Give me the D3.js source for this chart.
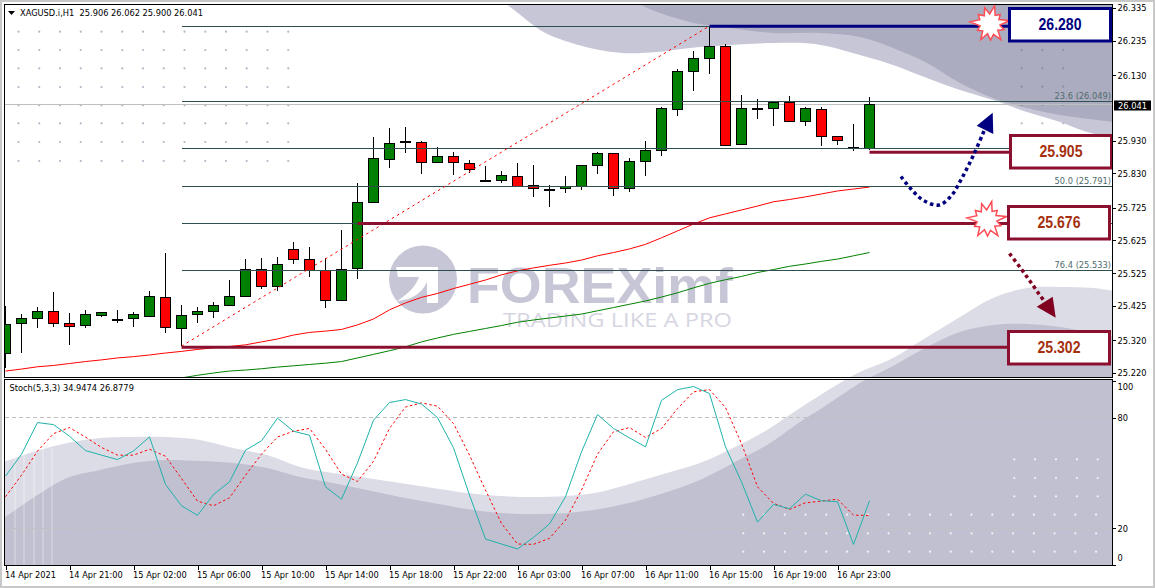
<!DOCTYPE html>
<html lang="en">

<head>
    <meta charset="utf-8">
    <script src="https://d3js.org/d3.v7.min.js"></script>
    <style>
        body { margin: 0; background: #fff; }
        svg { display: block; }
        text { font-family: "DejaVu Sans Condensed", "DejaVu Sans", sans-serif; font-size: 9.2px; fill: #000; }
        .axis path, .axis line { stroke: #000; shape-rendering: crispEdges; }
        .axis text { font-family: "DejaVu Sans Condensed", "DejaVu Sans", sans-serif; font-size: 9.2px; }
    </style>
</head>

<body>
    <script>
        // candles (one entry per hour bar)
        const opens = [25.280, 25.371, 25.387, 25.409, 25.372, 25.366, 25.398, 25.381, 25.387, 25.395, 25.452, 25.357, 25.400, 25.409, 25.427, 25.455, 25.539, 25.485, 25.598, 25.567, 25.534, 25.442, 25.540, 25.742, 25.873, 25.925, 25.925, 25.864, 25.882, 25.861, 25.806, 25.809, 25.821, 25.794, 25.780, 25.784, 25.790, 25.855, 25.891, 25.784, 25.867, 25.900, 26.026, 26.142, 26.181, 26.218, 25.919, 26.027, 26.029, 26.047, 25.989, 26.026, 25.943, 25.907, 25.906];
        const highs = [25.425, 25.400, 25.422, 25.468, 25.404, 25.413, 25.407, 25.413, 25.407, 25.471, 25.587, 25.428, 25.422, 25.437, 25.504, 25.568, 25.572, 25.575, 25.620, 25.605, 25.572, 25.657, 25.800, 25.941, 25.968, 25.971, 25.928, 25.910, 25.895, 25.870, 25.852, 25.837, 25.862, 25.856, 25.794, 25.822, 25.855, 25.894, 25.891, 25.876, 25.929, 26.032, 26.148, 26.204, 26.279, 26.224, 26.069, 26.057, 26.047, 26.066, 26.032, 26.032, 25.943, 25.981, 26.062];
        const lows = [25.236, 25.282, 25.356, 25.359, 25.307, 25.356, 25.392, 25.374, 25.362, 25.392, 25.343, 25.303, 25.374, 25.389, 25.427, 25.455, 25.478, 25.472, 25.553, 25.514, 25.420, 25.442, 25.508, 25.742, 25.847, 25.893, 25.829, 25.860, 25.826, 25.832, 25.806, 25.801, 25.790, 25.759, 25.728, 25.771, 25.780, 25.829, 25.762, 25.774, 25.823, 25.884, 26.006, 26.082, 26.134, 25.916, 25.919, 25.997, 25.976, 25.989, 25.976, 25.914, 25.918, 25.899, 25.900];
        const closes = [25.369, 25.387, 25.409, 25.372, 25.363, 25.400, 25.406, 25.384, 25.400, 25.455, 25.360, 25.397, 25.409, 25.427, 25.455, 25.539, 25.488, 25.552, 25.567, 25.534, 25.442, 25.537, 25.742, 25.876, 25.922, 25.928, 25.864, 25.882, 25.864, 25.842, 25.809, 25.824, 25.790, 25.784, 25.782, 25.790, 25.855, 25.891, 25.784, 25.867, 25.900, 26.029, 26.142, 26.181, 26.218, 25.916, 26.029, 26.030, 26.047, 25.989, 26.029, 25.943, 25.931, 25.910, 26.041];

        // moving averages
        const maRed = [25.226, 25.232, 25.239, 25.243, 25.249, 25.255, 25.260, 25.266, 25.270, 25.275, 25.281, 25.286, 25.292, 25.297, 25.301, 25.306, 25.315, 25.324, 25.336, 25.344, 25.348, 25.353, 25.367, 25.385, 25.413, 25.434, 25.451, 25.463, 25.478, 25.491, 25.504, 25.520, 25.532, 25.541, 25.549, 25.556, 25.565, 25.578, 25.588, 25.599, 25.613, 25.633, 25.654, 25.675, 25.694, 25.706, 25.718, 25.730, 25.743, 25.750, 25.758, 25.767, 25.776, 25.782, 25.788];
        const maGreenStart = 11; // below the pane before this bar
        const maGreen = [25.205, 25.213, 25.220, 25.226, 25.229, 25.233, 25.238, 25.242, 25.246, 25.250, 25.255, 25.266, 25.277, 25.288, 25.300, 25.315, 25.327, 25.338, 25.347, 25.356, 25.365, 25.375, 25.382, 25.388, 25.394, 25.400, 25.410, 25.420, 25.430, 25.440, 25.452, 25.465, 25.480, 25.494, 25.505, 25.515, 25.527, 25.536, 25.546, 25.553, 25.561, 25.568, 25.578, 25.588];

        // stochastic
        const stochMain = [48.3, 60.2, 77.4, 76.3, 70.0, 62.2, 59.7, 57.3, 62.0, 69.6, 43.8, 32.2, 27.0, 38.3, 45.2, 62.4, 67.5, 79.8, 72.7, 70.5, 42.5, 35.8, 55.5, 78.7, 88.3, 89.9, 87.5, 80.1, 63.7, 38.0, 14.1, 11.4, 8.7, 15.0, 22.3, 37.1, 61.5, 81.8, 74.2, 69.1, 64.2, 89.5, 95.3, 97.0, 93.2, 64.2, 45.2, 23.3, 32.9, 30.6, 38.5, 34.9, 34.4, 11.2, 34.9];
        const stochSignal = [37.1, 48.8, 61.9, 71.4, 74.7, 69.5, 63.9, 59.7, 59.7, 62.9, 59.1, 47.0, 34.7, 32.2, 36.5, 48.8, 60.2, 69.6, 72.7, 74.2, 62.9, 49.4, 45.4, 56.4, 74.2, 85.9, 88.1, 86.3, 76.9, 59.7, 40.7, 22.6, 11.4, 11.2, 14.5, 24.4, 40.7, 60.2, 72.4, 74.7, 69.3, 74.2, 85.0, 94.1, 95.3, 85.6, 66.0, 42.5, 33.5, 30.2, 33.8, 34.7, 35.8, 27.1, 26.9];

        // axis labels (the tick under the last price tag is not readable, so it is left out)
        const priceTicks = [26.335, 26.235, 26.130, 25.930, 25.830, 25.725, 25.625, 25.525, 25.425, 25.320, 25.220];
        const stochTicks = [100, 80, 20, 0];
        const timeLabels = ["14 Apr 2021", "14 Apr 21:00", "15 Apr 02:00", "15 Apr 06:00", "15 Apr 10:00", "15 Apr 14:00", "15 Apr 18:00", "15 Apr 22:00", "16 Apr 03:00", "16 Apr 07:00", "16 Apr 11:00", "16 Apr 15:00", "16 Apr 19:00", "16 Apr 23:00"];

        // fibonacci levels and drawn levels
        const fibRatios = [0, 23.6, 38.2, 50, 61.8, 76.4];
        const fibHigh = 26.280, fibLow = 25.302;
        const lastPrice = 26.041;
        const boxes = [
            { label: "26.280", level: 26.279, from: 44.0, color: "#000080", text: "#000080", top: 8.5, left: 1009.5 },
            { label: "25.905", level: 25.894, from: 54, color: "#8b1030", text: "#a5300f", top: 135.5, left: 1010.5 },
            { label: "25.676", level: 25.677, from: 22, color: "#8b1030", text: "#a5300f", top: 206.5, left: 1008.5 },
            { label: "25.302", level: 25.299, from: 11, color: "#8b1030", text: "#a5300f", top: 331.5, left: 1008.5 }
        ];

        const width = 1155, height = 588;
        const paneLeft = 4.5, paneRight = 1112.5, paneTop = 4.5, paneMid = 377.5, stochTop = 379.5, paneBottom = 565.5;

        const x = d3.scaleLinear().domain([0, 54]).range([5.5, 869.5]);
        const y = d3.scaleLinear().domain([26.335, 25.220]).range([8, 373]);
        const ys = d3.scaleLinear().domain([100, 0]).range([381, 565]);

        const svg = d3.select("body").append("svg").attr("width", width).attr("height", height);
        svg.append("rect").attr("width", width).attr("height", height).attr("fill", "#fff");

        const defs = svg.append("defs");
        defs.append("clipPath").attr("id", "pricePane").append("rect")
            .attr("x", paneLeft).attr("y", paneTop).attr("width", paneRight - paneLeft).attr("height", paneMid - paneTop);
        defs.append("clipPath").attr("id", "stochPane").append("rect")
            .attr("x", paneLeft).attr("y", stochTop).attr("width", paneRight - paneLeft).attr("height", paneBottom - stochTop);
        defs.append("clipPath").attr("id", "panes").append("rect")
            .attr("x", paneLeft).attr("y", paneTop).attr("width", paneRight - paneLeft).attr("height", paneBottom - paneTop);

        // watermark background, first the waves
        const wave = d3.line().curve(d3.curveCatmullRom);
        const bg = svg.append("g").attr("clip-path", "url(#panes)");

        function waveShape(edge, close, fill) {
            bg.append("path").attr("d", wave(edge) + close).attr("fill", fill);
        }
        const topLight = [[505, 3], [523, 17], [540, 30], [557, 38], [590, 48], [623, 53], [657, 52], [690, 48], [730, 45], [773, 43], [815, 44], [860, 55], [893, 65], [927, 78], [960, 90], [993, 100], [1027, 112], [1060, 122], [1087, 132], [1114, 138]];
        const topDark = [[637, 3], [657, 12], [690, 22], [705, 25], [730, 28], [773, 33], [820, 33], [860, 37], [893, 48], [927, 63], [960, 83], [993, 98], [1027, 108], [1060, 115], [1114, 122]];
        const lowLight = [[4, 462], [33, 452], [67, 443], [100, 438], [133, 437], [167, 437], [200, 440], [233, 448], [267, 455], [300, 467], [333, 473], [367, 478], [400, 483], [433, 488], [467, 493], [500, 496], [533, 497], [567, 496], [600, 492], [633, 483], [667, 473], [700, 463], [733, 448], [767, 430], [800, 408], [845, 380], [860, 372], [893, 358], [927, 337], [960, 317], [993, 298], [1027, 288], [1060, 287], [1093, 288], [1114, 291]];
        const lowDark = [[4, 518], [33, 498], [67, 478], [100, 470], [133, 463], [167, 460], [200, 461], [233, 463], [267, 468], [300, 477], [333, 483], [367, 490], [400, 497], [433, 503], [467, 509], [500, 513], [533, 514], [567, 513], [600, 509], [633, 502], [667, 492], [700, 480], [733, 463], [767, 445], [800, 422], [822, 408], [865, 380], [877, 374], [893, 366], [927, 347], [960, 332], [993, 325], [1027, 324], [1060, 327], [1093, 333], [1114, 337]];
        waveShape(topLight, "L1114,0L505,0Z", "#c6c6d6");
        waveShape(topDark, "L1114,0L637,0Z", "#acacc0");
        waveShape(lowLight, "L1114,570L4,570Z", "#dcdce6");
        waveShape(lowDark, "L1114,570L4,570Z", "#c0c0d0");

        // thin pale streaks at the lower left
        [15, 24, 34, 43, 52].forEach(function (sx) {
            bg.append("line").attr("x1", sx).attr("x2", sx).attr("y1", 448).attr("y2", 565)
                .attr("stroke", "#fff").attr("stroke-opacity", 0.45);
        });

        // dot grids
        function dotGrid(xs, ysList, fill) {
            xs.forEach(function (dx) {
                ysList.forEach(function (dy) {
                    bg.append("circle").attr("cx", dx).attr("cy", dy).attr("r", 1.1).attr("fill", fill);
                });
            });
        }
        const gridLeft = d3.range(18.5, 295, 20.75);
        dotGrid(gridLeft, [31.7, 50, 68.3, 87, 105.3, 123.3, 142, 161], "#b4b4c6");
        dotGrid([1021.7, 1042.3, 1063.3], [50, 68.3, 86.7, 105], "#8c8ca2");
        dotGrid([1021.7, 1042.3, 1063.3], [123.3], "#b9b9c9");
        dotGrid(d3.range(743.3, 1100, 20.75), [514.7, 533.3, 551.7], "#f4f4f8");
        dotGrid(d3.range(1014.3, 1100, 20.85), [459.3, 478, 496.3], "#f4f4f8");

        // logo
        bg.append("circle").attr("cx", 423).attr("cy", 279.5).attr("r", 34).attr("fill", "#c6c6d6");
        bg.append("rect").attr("x", 380).attr("y", 240).attr("width", 6).attr("height", 80).attr("fill", "#fff");
        bg.append("path")
            .attr("d", "M396,267H438V303H427V282C422,293 412,300 397,301C410,293 416,285 419,277H398Z")
            .attr("fill", "#fff");
        bg.append("text").attr("x", 467).attr("y", 303).attr("textLength", 266).attr("lengthAdjust", "spacingAndGlyphs")
            .style("font-family", "'Liberation Sans'").style("font-weight", "700").style("font-size", "50px")
            .style("fill", "#c6c6d6").text("FOREXimf");
        bg.append("text").attr("x", 503).attr("y", 327).attr("textLength", 229).attr("lengthAdjust", "spacingAndGlyphs")
            .style("font-family", "'Open Sans'").style("font-size", "20px")
            .style("fill", "#d6d6e2").text("TRADING LIKE A PRO");

        // price pane
        const price = svg.append("g").attr("clip-path", "url(#pricePane)");

        // last price line
        price.append("line").attr("x1", paneLeft).attr("x2", paneRight).attr("y1", y(lastPrice)).attr("y2", y(lastPrice))
            .attr("stroke", "#c0c0c0").attr("shape-rendering", "crispEdges");

        // candles
        const candles = price.selectAll(".candle").data(d3.range(opens.length)).enter().append("g").attr("class", "candle");
        candles.append("line")
            .attr("x1", i => x(i)).attr("x2", i => x(i))
            .attr("y1", i => y(highs[i])).attr("y2", i => y(lows[i]))
            .attr("stroke", "#000").attr("shape-rendering", "crispEdges");
        candles.append("rect")
            .attr("x", i => x(i) - 5)
            .attr("width", 10)
            .attr("y", i => Math.round(y(Math.max(opens[i], closes[i]))) + 0.5)
            .attr("height", i => Math.max(1, Math.abs(y(opens[i]) - y(closes[i]))))
            .attr("fill", i => closes[i] >= opens[i] ? "#008000" : "#ff0000")
            .attr("stroke", "#000").attr("shape-rendering", "crispEdges");

        // moving averages
        const priceLine = d3.line().x(d => x(d[0])).y(d => y(d[1]));
        price.append("path").attr("d", priceLine(maRed.map((v, i) => [i, v])))
            .attr("fill", "none").attr("stroke", "#ff0000");
        price.append("path").attr("d", priceLine(maGreen.map((v, i) => [i + maGreenStart, v])))
            .attr("fill", "none").attr("stroke", "#008000");

        // fibonacci
        const fibX = x(11);
        const fib = svg.append("g");
        fibRatios.forEach(function (r) {
            const level = fibHigh - (fibHigh - fibLow) * r / 100;
            fib.append("line").attr("x1", fibX).attr("x2", paneRight).attr("y1", y(level)).attr("y2", y(level))
                .attr("stroke", "#2f4f4f").attr("shape-rendering", "crispEdges");
            if (r == 23.6 || r == 50 || r == 76.4) {
                fib.append("text").attr("x", 1111).attr("y", y(level) - 2.5).attr("text-anchor", "end")
                    .style("fill", "#4f6b6b")
                    .text(d3.format(".1f")(r) + " (" + d3.format(".3f")(level) + ")");
            }
        });
        fib.append("path").attr("d", priceLine([[11, fibLow], [44, fibHigh]]))
            .attr("fill", "none").attr("stroke", "#ff0000").attr("stroke-dasharray", "2.5,3.5");

        // level lines and price boxes
        boxes.forEach(function (b) {
            svg.append("line").attr("x1", x(b.from)).attr("x2", b.left).attr("y1", y(b.level)).attr("y2", y(b.level))
                .attr("stroke", b.color).attr("stroke-width", 3);
        });

        // bursts on two levels
        const burstRadii = [19, 10, 14, 10, 20, 10, 15, 10, 19, 11, 16, 10, 18, 10, 14, 10, 20, 11, 15, 10, 17, 10];
        const burst = d3.lineRadial().angle((d, i) => i / burstRadii.length * 2 * Math.PI + 0.25).radius(d => d).curve(d3.curveLinearClosed);
        [[990, 24], [987, 220]].forEach(function (c) {
            svg.append("path").attr("d", burst(burstRadii)).attr("transform", "translate(" + c[0] + "," + c[1] + ")")
                .attr("fill", "#fff").attr("stroke", "#ff4d55").attr("stroke-width", 1.5);
        });

        boxes.forEach(function (b) {
            svg.append("rect").attr("x", b.left).attr("y", b.top).attr("width", 101).attr("height", 32.5)
                .attr("fill", "#fff").attr("stroke", b.color).attr("stroke-width", 3);
            svg.append("text").attr("x", b.left + 50.5).attr("y", b.top + 21.5).attr("text-anchor", "middle")
                .attr("textLength", 43).attr("lengthAdjust", "spacingAndGlyphs")
                .style("font-family", "'Liberation Sans'").style("font-weight", "700").style("font-size", "16px")
                .style("fill", b.text).text(b.label);
        });

        // dotted forecast arrows
        const arrowLine = d3.line().curve(d3.curveCatmullRom);
        function arrow(points, head, color) {
            svg.append("path").attr("d", arrowLine(points)).attr("fill", "none")
                .attr("stroke", color).attr("stroke-width", 3.5).attr("stroke-dasharray", "3.5,3.2");
            svg.append("path").attr("d", "M" + head.join("L") + "Z").attr("fill", color);
        }
        arrow([[901, 176.5], [912, 190], [924, 200.7], [939, 205], [951.7, 195.3], [960, 181.7], [967.3, 167.7], [974, 154], [984, 131]],
            [[992.7, 112.7], [976.7, 125.7], [993.3, 134]], "#000080");
        arrow([[1009.5, 253.5], [1020.3, 267.7], [1029.7, 280.7], [1039, 294], [1045, 302]],
            [[1055.7, 317.7], [1036.7, 306.7], [1052.7, 296.7]], "#800020");

        // stochastic pane
        const stoch = svg.append("g").attr("clip-path", "url(#stochPane)");
        stochTicks.filter(d => d == 80 || d == 20).forEach(function (d) {
            stoch.append("line").attr("x1", paneLeft).attr("x2", paneRight).attr("y1", ys(d)).attr("y2", ys(d))
                .attr("stroke", "#c0c0c0").attr("stroke-dasharray", "4,3").attr("shape-rendering", "crispEdges");
        });
        const stochLine = d3.line().x((d, i) => x(i)).y(d => ys(d));
        stoch.append("path").attr("d", stochLine(stochSignal)).attr("fill", "none")
            .attr("stroke", "#ff0000").attr("stroke-dasharray", "2.5,2.5");
        stoch.append("path").attr("d", stochLine(stochMain)).attr("fill", "none").attr("stroke", "#20b2aa");

        // frames and gap between panes
        svg.append("rect").attr("x", paneLeft).attr("y", paneMid).attr("width", paneRight - paneLeft).attr("height", stochTop - paneMid).attr("fill", "#fff");
        [[paneLeft, paneTop, paneRight - paneLeft, paneMid - paneTop], [paneLeft, stochTop, paneRight - paneLeft, paneBottom - stochTop]].forEach(function (r) {
            svg.append("rect").attr("x", r[0]).attr("y", r[1]).attr("width", r[2]).attr("height", r[3])
                .attr("fill", "none").attr("stroke", "#000").attr("shape-rendering", "crispEdges");
        });

        // axes
        const priceAxis = svg.append("g").attr("class", "axis").attr("transform", "translate(" + paneRight + ",0)")
            .call(d3.axisRight(y).tickValues(priceTicks).tickFormat(d3.format(".3f")).tickSize(3).tickPadding(2));
        priceAxis.select(".domain").remove();

        const stochAxis = svg.append("g").attr("class", "axis").attr("transform", "translate(" + paneRight + ",0)")
            .call(d3.axisRight(ys).tickValues(stochTicks).tickSize(3).tickPadding(2));
        stochAxis.select(".domain").remove();
        // the 100 and 0 labels are pushed inside the pane
        stochAxis.selectAll(".tick text").attr("dy", d => d == 100 ? "0.95em" : d == 0 ? "-0.45em" : "0.32em");

        const timeAxis = svg.append("g").attr("class", "axis").attr("transform", "translate(0," + paneBottom + ")")
            .call(d3.axisBottom(x).tickValues(timeLabels.map((t, i) => i * 4)).tickFormat((d, i) => timeLabels[i]).tickSize(4).tickPadding(2));
        timeAxis.select(".domain").remove();
        timeAxis.selectAll(".tick text").attr("text-anchor", "start").attr("dx", "-1");

        // last price tag on top of the axis
        svg.append("rect").attr("x", paneRight + 1.5).attr("y", 100.5).attr("width", 37).attr("height", 10).attr("fill", "#000");
        svg.append("text").attr("x", paneRight + 5.5).attr("y", 108.8).style("fill", "#fff").text(d3.format(".3f")(lastPrice));

        // titles
        svg.append("path").attr("d", "M8,11H15L11.5,15Z").attr("fill", "#000");
        svg.append("text").attr("x", 20).attr("y", 16).style("white-space", "pre").text("XAGUSD.i,H1  25.906 26.062 25.900 26.041");
        svg.append("text").attr("x", 9.5).attr("y", 391).text("Stoch(5,3,3) 34.9474 26.8779");

        // outer window edge
        svg.append("rect").attr("x", 1).attr("y", 1).attr("width", width - 2).attr("height", height - 2)
            .attr("fill", "none").attr("stroke", "#c8c8c8").attr("stroke-width", 2);
    </script>
</body>

</html>
